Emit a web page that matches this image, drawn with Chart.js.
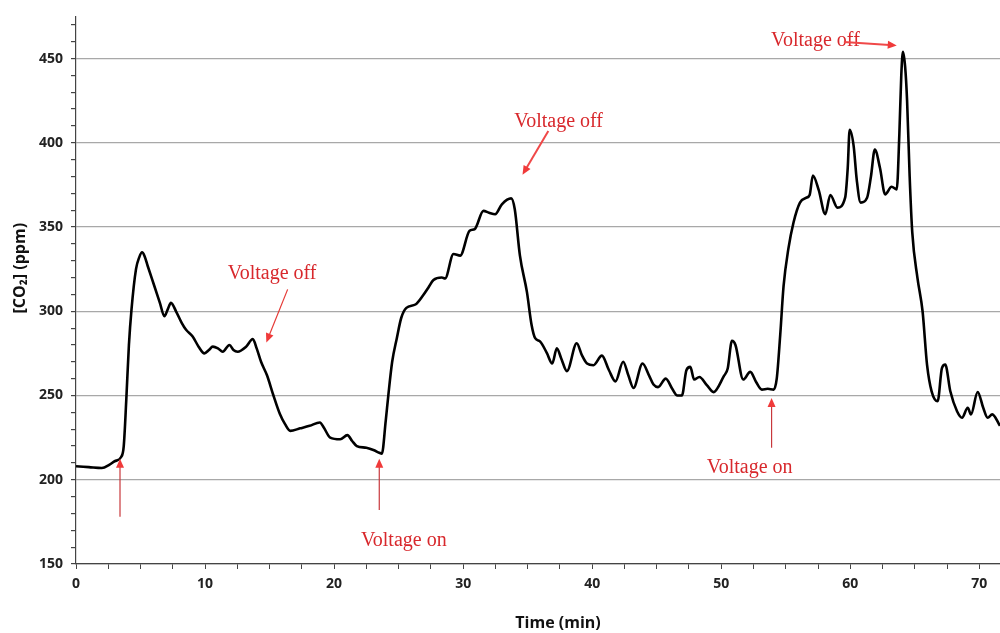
<!DOCTYPE html>
<html lang="en">
<head>
  <meta charset="UTF-8">
  <title>CO2 concentration vs time</title>
  <style>
    body {
      margin: 0;
      background: #fff;
    }
    canvas {
      display: block;
    }
  </style>
  <script src="https://cdn.jsdelivr.net/npm/chart.js"></script>
</head>
<body>
  <canvas id="co2Chart" width="1000" height="633"></canvas>
  <script>
    // time (min) and CO2 (ppm)
    const timeMin = [
      0, 1.0, 2.0, 2.6, 3.0, 3.5, 3.7, 3.9, 4.1, 4.3, 4.65, 4.9, 5.12, 5.3, 5.55, 6.07, 6.5, 6.85, 7.1, 7.36,
      7.75, 8.2, 8.53, 9.04, 9.5, 9.95, 10.3, 10.6, 11.0, 11.37, 11.89, 12.2, 12.53, 13.18, 13.7, 14.0, 14.34, 14.8, 15.3, 15.8,
      16.2, 16.6, 17.36, 18.1, 18.9, 19.2, 19.7, 20.47, 21.03, 21.4, 21.76, 22.5, 23.1, 23.5, 23.7, 24.0, 24.2, 24.5, 24.86, 25.2,
      25.6, 26.3, 26.9, 27.3, 27.7, 28.35, 28.6, 29.25, 29.77, 30.5, 30.9, 31.57, 32.0, 32.48, 33.0, 33.72, 34.0, 34.4, 34.94, 35.3,
      35.58, 35.97, 36.5, 36.9, 37.26, 37.6, 38.04, 38.8, 39.2, 39.6, 40.1, 40.75, 41.3, 41.8, 42.4, 42.8, 43.2, 43.9, 44.4, 44.75,
      45.1, 45.7, 46.2, 46.6, 46.95, 47.3, 47.6, 47.9, 48.3, 48.9, 49.4, 50.2, 50.5, 50.83, 51.1, 51.7, 52.25, 52.7, 53.15, 53.6,
      54.06, 54.3, 54.57, 54.83, 55.2, 55.6, 56.1, 56.6, 56.85, 57.1, 57.55, 58.06, 58.45, 59.0, 59.6, 59.8, 59.95, 60.26, 60.5, 60.8,
      61.3, 61.6, 61.9, 62.3, 62.7, 63.2, 63.6, 63.8, 63.95, 64.08, 64.25, 64.4, 64.6, 64.8, 65.2, 65.6, 65.95, 66.3, 66.77, 67.1,
      67.36, 67.75, 68.27, 68.66, 69.1, 69.35, 69.87, 70.3, 70.64, 71.0, 71.6
    ];
    const co2Ppm = [
      208, 207.5, 207, 209, 211, 213.5, 220, 248, 280, 301, 325, 332, 335, 333, 327, 315, 305, 297, 301, 305,
      300, 293, 289, 285, 279, 275, 277, 279, 278, 276, 280, 277, 276, 279, 283.5, 278, 270, 262, 250, 239,
      233, 229, 230.5, 232, 234, 231, 225, 224, 226.5, 223, 220, 219, 217.5, 216, 215.5, 235, 250, 270, 284, 296,
      302, 304, 309.5, 314, 318.5, 320, 319.5, 334, 333, 347.8, 348.8, 359.6, 358.5, 357.6, 363.5, 367, 360.5, 333, 311.5, 292,
      284, 282, 275, 269, 278, 272, 264.5, 281, 274, 269, 268, 273.7, 265, 258.4, 270, 262, 254.5, 269, 262, 256.5,
      255, 260, 254, 250, 250, 265, 267, 259.5, 261, 256, 252, 261.5, 266, 282.5, 280, 259.5, 264, 258, 253.5, 254,
      253.5, 260, 286, 315, 337, 352.7, 364.5, 367.4, 369, 380.6, 372, 357.6, 369, 361.5, 367.4, 385, 407.7, 398, 378, 364.5,
      367.4, 380, 396, 385, 369.4, 373.9, 372.3, 405, 440, 454, 445, 425, 380, 347, 320, 300, 268, 252.5, 246.6, 266.3,
      268.3, 252.5, 240.7, 236.8, 242.7, 238.8, 252.1, 242.7, 236.8, 238.8, 232
    ];

    // axis ticks
    const xTickVals = [0, 2.5, 5, 7.5, 10, 12.5, 15, 17.5, 20, 22.5, 25, 27.5, 30, 32.5, 35, 37.5, 40, 42.5, 45, 47.5,
      50, 52.5, 55, 57.5, 60, 62.5, 65, 67.5, 70];
    const xLabelVals = [0, 10, 20, 30, 40, 50, 60, 70];
    const yTickVals = [150, 160, 170, 180, 190, 200, 210, 220, 230, 240, 250, 260, 270, 280, 290, 300, 310, 320, 330, 340,
      350, 360, 370, 380, 390, 400, 410, 420, 430, 440, 450, 460, 470];
    const yLabelVals = [150, 200, 250, 300, 350, 400, 450];

    // red notes on the plot (data coordinates)
    const notes = [
      { text: 'Voltage off', x: 15.2, y: 322 },
      { text: 'Voltage on', x: 25.4, y: 164 },
      { text: 'Voltage off', x: 37.4, y: 412.5 },
      { text: 'Voltage on', x: 52.2, y: 207 },
      { text: 'Voltage off', x: 57.3, y: 460.5 }
    ];
    const arrows = [
      { from: [3.41, 178], to: [3.41, 212.5], color: '#c8383c', width: 1.2 },
      { from: [16.4, 313], to: [14.75, 281.5], color: '#e53935', width: 1.2 },
      { from: [23.5, 182], to: [23.5, 212.5], color: '#c8383c', width: 1.2 },
      { from: [36.6, 407], to: [34.6, 381], color: '#f04848', width: 2 },
      { from: [53.9, 219], to: [53.9, 248.5], color: '#c8383c', width: 1.2 },
      { from: [59.5, 459.8], to: [63.6, 457.8], color: '#f04848', width: 2 }
    ];

    const notesPlugin = {
      id: 'notes',
      afterDatasetsDraw(chart) {
        const { ctx, scales: { x, y } } = chart;
        ctx.save();
        ctx.font = '20px "Liberation Serif", "Times New Roman", serif';
        ctx.fillStyle = '#d8282c';
        ctx.textAlign = 'center';
        ctx.textBaseline = 'middle';
        notes.forEach(n => {
          ctx.fillText(n.text, x.getPixelForValue(n.x), y.getPixelForValue(n.y));
        });
        arrows.forEach(a => {
          const x0 = x.getPixelForValue(a.from[0]), y0 = y.getPixelForValue(a.from[1]);
          const x1 = x.getPixelForValue(a.to[0]), y1 = y.getPixelForValue(a.to[1]);
          const ang = Math.atan2(y1 - y0, x1 - x0);
          const head = 9;
          ctx.strokeStyle = a.color;
          ctx.lineWidth = a.width;
          ctx.beginPath();
          ctx.moveTo(x0, y0);
          ctx.lineTo(x1 - Math.cos(ang) * head * 0.8, y1 - Math.sin(ang) * head * 0.8);
          ctx.stroke();
          ctx.fillStyle = '#f03a3a';
          ctx.beginPath();
          ctx.moveTo(x1, y1);
          ctx.lineTo(x1 - head * Math.cos(ang) + 4 * Math.sin(ang), y1 - head * Math.sin(ang) - 4 * Math.cos(ang));
          ctx.lineTo(x1 - head * Math.cos(ang) - 4 * Math.sin(ang), y1 - head * Math.sin(ang) + 4 * Math.cos(ang));
          ctx.closePath();
          ctx.fill();
        });
        ctx.restore();
      }
    };

    // axis titles sit a bit off-centre in the original, so draw them here
    const axisTitles = {
      id: 'axisTitles',
      afterDraw(chart) {
        const { ctx, chartArea: a } = chart;
        ctx.save();
        ctx.font = 'bold 16px "Open Sans", sans-serif';
        ctx.fillStyle = '#111';
        ctx.textAlign = 'center';
        ctx.textBaseline = 'middle';
        ctx.fillText('Time (min)', (a.left + a.right) / 2 + 20, a.bottom + 59);
        ctx.translate(a.left - 56, (a.top + a.bottom) / 2 - 22);
        ctx.rotate(-Math.PI / 2);
        ctx.fillText('[CO₂] (ppm)', 0, 0);
        ctx.restore();
      }
    };

    const tickFont = { family: '"Open Sans", sans-serif', size: 14, weight: 'bold' };

    new Chart(document.getElementById('co2Chart'), {
      type: 'line',
      data: {
        datasets: [{
          label: '[CO2]',
          data: timeMin.map((t, i) => ({ x: t, y: co2Ppm[i] })),
          borderColor: '#000',
          borderWidth: 2.6,
          pointRadius: 0,
          cubicInterpolationMode: 'monotone',
          fill: false
        }]
      },
      options: {
        responsive: false,
        animation: false,
        events: [],
        layout: { padding: { top: 13, right: 0, bottom: 0, left: 0 } },
        plugins: {
          legend: { display: false },
          tooltip: { enabled: false }
        },
        scales: {
          x: {
            type: 'linear',
            min: 0,
            max: 71.6,
            afterBuildTicks: s => { s.ticks = xTickVals.map(v => ({ value: v })); },
            afterFit: s => { s.height = 69; },
            border: { color: '#444', width: 1.2 },
            grid: { drawOnChartArea: false, tickLength: 5, tickColor: '#444' },
            ticks: {
              autoSkip: false,
              maxRotation: 0,
              padding: 7,
              color: '#222',
              font: tickFont,
              callback: v => xLabelVals.includes(v) ? String(v) : ''
            }
          },
          y: {
            min: 150,
            max: 475,
            afterBuildTicks: s => { s.ticks = yTickVals.map(v => ({ value: v })); },
            afterFit: s => { s.width = 76; },
            border: { color: '#444', width: 1.2 },
            grid: {
              tickLength: 5,
              tickColor: '#444',
              color: c => (c.tick && yLabelVals.includes(c.tick.value)) ? '#a8a8a8' : 'rgba(0,0,0,0)',
              lineWidth: 1.2
            },
            ticks: {
              autoSkip: false,
              padding: 8,
              color: '#222',
              font: tickFont,
              callback: v => yLabelVals.includes(v) ? String(v) : ''
            }
          }
        }
      },
      plugins: [notesPlugin, axisTitles]
    });
  </script>
</body>
</html>
